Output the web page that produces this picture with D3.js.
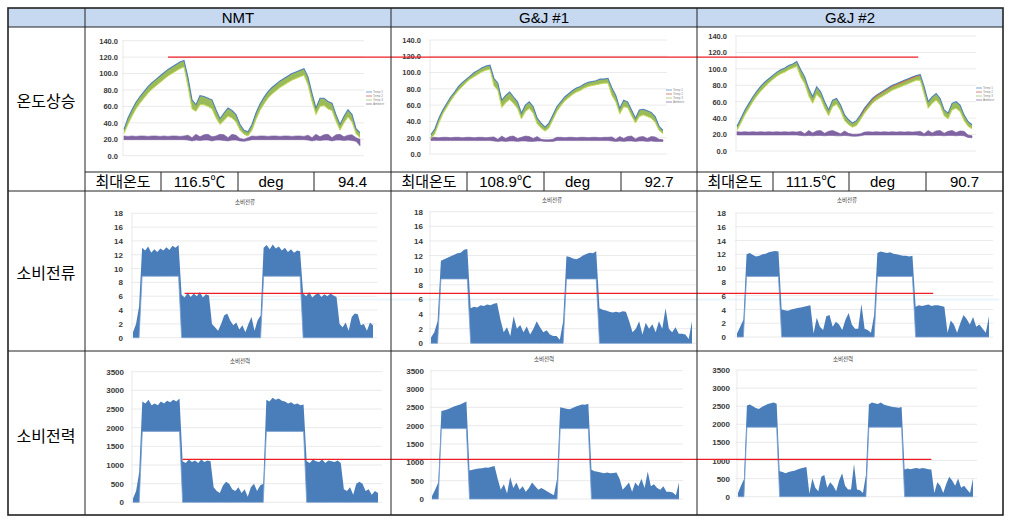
<!DOCTYPE html>
<html>
<head>
<meta charset="utf-8">
<script src="https://cdn.jsdelivr.net/npm/d3@7"></script>
<style>
  body { margin: 0; background: #fff; }
  text { font-family: 'Liberation Sans', 'Noto Sans CJK KR', sans-serif; }
</style>
</head>
<body>
<svg width="1011" height="524"></svg>
<script>
const columns = ['NMT', 'G&J #1', 'G&J #2']
const rowLabels = ['온도상승', '소비전류', '소비전력']
const maxTempLabel = '최대온도'
const maxTemps = ['116.5℃', '108.9℃', '111.5℃']
const degValues = ['94.4', '92.7', '90.7']
const currentTitle = '소비전류'
const powerTitle = '소비전력'
const legendNames = ['Temp 1', 'Temp 2', 'Temp 3', 'Ambient']

const tempTicks = [0, 20, 40, 60, 80, 100, 120, 140]
const currentTicks = [0, 2, 4, 6, 8, 10, 12, 14, 16, 18]
const powerTicks = [0, 500, 1000, 1500, 2000, 2500, 3000, 3500]

// limit lines (drawn across the three columns)
const limitTemp = 120
const limitCurrent = 6.4
const limitPower = 1150

// temperature, sampled at even steps over the test
const nmtTempHi = [32,46,56,65,72,78,84,89,93,97,101,105,108,111,114,116,95,68,62,73,72,70,68,56,45,52,58,55,50,38,31,29,38,52,63,71,78,83,87,91,94,97,100,102,104,106,96,76,58,70,70,66,64,50,38,48,56,50,33,28]
const nmtTempLo = [27,38,48,57,64,70,76,81,85,89,93,97,100,103,106,108,84,57,54,62,62,60,57,46,38,43,48,46,41,31,26,24,31,44,55,63,70,75,79,83,86,89,92,94,96,98,86,66,50,60,61,57,55,42,31,40,47,41,27,22]
const nmtAmbHi = [24,23.5,24,23.5,24,24,23.5,24,24,23.5,24,23.5,24,24,23.5,24,25,22,26,23,25.5,26,23,24,26,25.5,22,26,25,21,20,22,24,23.5,24,24,23.5,24,24,23.5,24,24,23.5,24,24,23.5,25,22,26,23,25.5,26,22,25.5,26,23,25,25.5,22,20]
const nmtAmbLo = [19.5,19.5,19.5,19.5,19.5,19.5,19.5,19.5,19.5,19.5,19.5,19.5,19.5,19.5,19.5,19.5,19,18,19,18.5,19,19,18,19,19,18.5,18,19,19,18,17.5,18.5,19.5,19.5,19.5,19.5,19.5,19.5,19.5,19.5,19.5,19.5,19.5,19.5,19.5,19.5,19,18,19,18.5,19,19,18,19,19,18.5,19,18.5,17.5,12]

const g1TempHi = [24,31,44,54,62,70,76,83,88,92,96,100,103,106,108,109,93,87,66,72,76,70,64,50,60,64,58,44,38,33,38,48,58,64,70,74,78,81,83,86,88,89,90,92,92,93,81,72,56,66,64,54,44,54,55,53,51,46,34,29]
const g1TempLo = [19,25,38,49,57,65,72,78,83,88,92,95,98,101,103,104,84,78,57,63,67,62,56,43,52,56,50,37,32,28,32,42,52,59,65,69,73,76,78,81,83,84,85,86,87,87,72,64,49,58,57,47,38,46,48,46,44,39,29,25]
const g1AmbHi = [20.5,20.5,20,20.5,20.5,20,20.5,20.5,20,20.5,20.5,20,20.5,20.5,20,20.5,21,18,22,19,21.5,22,19,20.5,22,21.5,19,21.5,18,17.5,17.5,18,20.5,20.5,20,20.5,20.5,20,20.5,20.5,20,20.5,20.5,20,20.5,20.5,21,18,21.5,19,21.5,22,18.5,21,21.5,19,21.5,21,18,17.5]
const g1AmbLo = [16.5,16.5,16.5,16.5,16.5,16.5,16.5,16.5,16.5,16.5,16.5,16.5,16.5,16.5,16.5,16.5,16,15.5,16,15.5,16,16,15.5,16,16,15.5,15.5,16,16,15.5,15.5,15.5,16.5,16.5,16.5,16.5,16.5,16.5,16.5,16.5,16.5,16.5,16.5,16.5,16.5,16.5,16,15.5,16,15.5,16,16,15.5,16,16,15.5,16,15.5,15.5,15.5]

const g2TempHi = [30,40,50,58,66,73,79,84,88,92,96,99,101,104,106,109,99,90,76,66,78,72,60,50,62,64,56,44,38,34,37,44,52,58,64,68,71,74,77,80,82,84,86,88,90,92,93,78,60,66,70,64,50,46,58,60,56,44,36,32]
const g2TempLo = [25,34,44,52,60,67,73,78,83,87,91,94,96,99,101,103,90,82,67,58,69,64,52,43,54,57,49,37,32,29,31,38,46,52,58,62,65,68,71,74,76,78,80,82,84,86,86,69,52,58,62,56,43,39,50,52,48,37,30,27]
const g2OrangeStart = 31
const g2OrangeTemp = [43,51,57,63,67,70,73,76,79,81,83,85,87,89,91,92]
const g2AmbHi = [23.5,23,23.5,23,23.5,23,23.5,23,23.5,23,23.5,23,23.5,23,23.5,23,24,21,25,22,24.5,25,21.5,24,25,23,21,24.5,21.5,20.5,20.5,21,23,23.5,23,23.5,23,23.5,23,23.5,23,23.5,23,23.5,23,23.5,24,21,25,22,24.5,25,21.5,24,25,22.5,24.5,24,19.5,18.5]
const g2AmbLo = [19.5,19.5,19.5,19.5,19.5,19.5,19.5,19.5,19.5,19.5,19.5,19.5,19.5,19.5,19.5,19.5,19,18.5,19,18.5,19,19,18.5,19,19,18.5,18.5,19,18.5,18,18,18.5,19.5,19.5,19.5,19.5,19.5,19.5,19.5,19.5,19.5,19.5,19.5,19.5,19.5,19.5,19,18.5,19,18.5,19,19,18.5,19,19,18.5,19,18.5,16.5,16]

// current (A): upper and lower edge of the trace
const nmtCurHi = [0.8,2.0,4.5,13.0,12.6,13.2,12.3,12.8,12.4,12.9,12.6,13.1,12.7,13.3,13.0,13.4,6.2,5.8,6.5,5.9,6.4,6.0,6.6,5.8,6.3,6.1,2.0,1.5,1.0,2.0,3.2,3.5,2.5,1.8,2.2,1.2,1.8,0.8,2.0,3.0,1.0,2.5,3.2,13.0,13.4,12.8,13.5,12.9,13.2,12.6,13.0,12.4,12.8,12.3,12.6,12.5,6.4,6.0,6.6,5.8,6.2,6.5,5.9,6.3,6.0,6.4,6.1,5.9,2.0,1.5,2.2,1.0,3.0,3.5,3.4,1.8,2.0,1.0,2.2,1.8]
const nmtCurLo = [0,0,0,8.9,8.9,8.9,8.9,8.9,8.9,8.9,8.9,8.9,8.9,8.9,8.9,8.9,0,0,0,0,0,0,0,0,0,0,0,0,0,0,0,0,0,0,0,0,0,0,0,0,0,0,0,8.9,8.9,8.9,8.9,8.9,8.9,8.9,8.9,8.9,8.9,8.9,8.9,8.9,0,0,0,0,0,0,0,0,0,0,0,0,0,0,0,0,0,0,0,0,0,0,0,0]
const g1CurHi = [0.8,1.5,3.0,11.3,11.5,11.7,11.9,12.1,12.3,12.4,12.8,12.9,4.8,5.0,4.9,5.2,5.1,5.3,5.2,5.4,5.5,3.3,1.5,2.2,1.0,3.7,2.0,2.5,1.5,2.3,1.2,2.0,3.0,2.2,1.5,1.8,1.2,1.0,1.0,0.5,3.0,11.9,11.8,11.6,11.5,11.7,12.0,12.2,12.4,12.3,12.6,4.8,4.6,4.5,4.3,4.2,4.3,4.2,4.4,4.3,3.0,1.5,2.0,3.0,1.2,2.8,2.0,2.6,1.5,3.0,2.0,4.8,2.0,1.5,2.2,1.3,1.3,1.2,0.6,3.0]
const g1CurLo = [0,0,0,8.8,8.8,8.8,8.8,8.8,8.8,8.8,8.8,8.8,0,0,0,0,0,0,0,0,0,0,0,0,0,0,0,0,0,0,0,0,0,0,0,0,0,0,0,0,0,8.8,8.8,8.8,8.8,8.8,8.8,8.8,8.8,8.8,8.8,0,0,0,0,0,0,0,0,0,0,0,0,0,0,0,0,0,0,0,0,0,0,0,0,0,0,0,0,0]
const g2CurHi = [0.5,1.5,2.5,12.0,12.2,11.9,11.7,11.8,12.0,12.1,12.3,12.4,12.5,12.4,4.0,3.9,3.8,4.0,4.1,4.2,4.3,4.4,4.5,4.6,0.5,2.8,1.5,1.0,3.0,3.2,1.5,2.2,1.8,1.0,2.5,3.5,1.8,1.2,1.2,4.8,1.2,1.0,0.6,3.2,12.2,12.4,12.3,12.2,12.3,12.1,12.0,11.9,11.8,11.8,11.7,11.8,4.4,4.6,4.5,4.6,4.7,4.5,4.6,4.6,4.5,4.4,0.6,2.4,1.8,0.6,2.0,3.2,2.6,1.8,2.9,1.5,1.8,1.2,0.6,3.0]
const g2CurLo = [0,0,0,8.8,8.8,8.8,8.8,8.8,8.8,8.8,8.8,8.8,8.8,8.8,0,0,0,0,0,0,0,0,0,0,0,0,0,0,0,0,0,0,0,0,0,0,0,0,0,0,0,0,0,0,8.8,8.8,8.8,8.8,8.8,8.8,8.8,8.8,8.8,8.8,8.8,8.8,0,0,0,0,0,0,0,0,0,0,0,0,0,0,0,0,0,0,0,0,0,0,0,0]

// power (W)
const nmtPowHi = [100,300,800,2700,2650,2750,2600,2650,2600,2700,2650,2720,2680,2750,2700,2780,1100,1050,1150,1080,1120,1050,1150,1080,1120,1100,400,300,250,450,550,500,350,300,400,250,350,150,400,500,300,450,500,2750,2700,2800,2750,2780,2720,2700,2650,2680,2620,2650,2600,2620,1100,1050,1150,1100,1080,1150,1050,1120,1100,1080,1120,1050,350,300,400,200,500,550,500,300,350,200,300,250]
const nmtPowLo = [0,0,0,1900,1900,1900,1900,1900,1900,1900,1900,1900,1900,1900,1900,1900,0,0,0,0,0,0,0,0,0,0,0,0,0,0,0,0,0,0,0,0,0,0,0,0,0,0,0,1900,1900,1900,1900,1900,1900,1900,1900,1900,1900,1900,1900,1900,0,0,0,0,0,0,0,0,0,0,0,0,0,0,0,0,0,0,0,0,0,0,0,0]
const g1PowHi = [80,250,450,2400,2420,2450,2480,2520,2550,2580,2620,2660,780,800,820,830,840,860,850,880,900,550,250,400,150,600,300,450,250,350,200,300,450,350,250,300,250,200,150,100,550,2500,2480,2460,2450,2480,2520,2550,2580,2570,2600,800,760,740,720,700,720,700,710,720,550,250,350,450,200,450,350,550,300,750,350,400,300,250,350,200,200,180,100,450]
const g1PowLo = [0,0,0,1920,1920,1920,1920,1920,1920,1920,1920,1920,0,0,0,0,0,0,0,0,0,0,0,0,0,0,0,0,0,0,0,0,0,0,0,0,0,0,0,0,0,1920,1920,1920,1920,1920,1920,1920,1920,1920,1920,0,0,0,0,0,0,0,0,0,0,0,0,0,0,0,0,0,0,0,0,0,0,0,0,0,0,0,0,0]
const g2PowHi = [100,300,480,2520,2550,2500,2450,2420,2480,2520,2560,2580,2600,2570,700,680,650,680,700,720,750,780,800,820,80,500,250,150,550,600,250,400,300,150,450,650,300,200,200,900,200,180,100,600,2550,2600,2580,2560,2600,2550,2520,2500,2480,2470,2460,2480,750,780,760,780,790,770,790,780,760,750,100,400,300,100,350,550,450,300,500,250,300,200,100,500]
const g2PowLo = [0,0,0,1920,1920,1920,1920,1920,1920,1920,1920,1920,1920,1920,0,0,0,0,0,0,0,0,0,0,0,0,0,0,0,0,0,0,0,0,0,0,0,0,0,0,0,0,0,0,1920,1920,1920,1920,1920,1920,1920,1920,1920,1920,1920,1920,0,0,0,0,0,0,0,0,0,0,0,0,0,0,0,0,0,0,0,0,0,0,0,0]

const svg = d3.select('svg')

// ---- table frame ----
const colX = [8, 85, 391, 697, 1003]
const rowY = [8, 27, 191, 351, 515]
const subY = 172
const subColX = [
  [85, 161, 238, 314, 391],
  [391, 467, 544, 621, 697],
  [697, 773, 849, 926, 1003]
]

svg.append('rect')
  .attr('x', colX[0]).attr('y', rowY[0])
  .attr('width', colX[4] - colX[0]).attr('height', rowY[1] - rowY[0])
  .attr('fill', '#c6d9f1')

const tempCharts = [
  {hi: nmtTempHi, lo: nmtTempLo, ambHi: nmtAmbHi, ambLo: nmtAmbLo, x0: 124, x1: 360, yb: 155.7, yt: 40.7, lx: 118, leg: [366, 92]},
  {hi: g1TempHi, lo: g1TempLo, ambHi: g1AmbHi, ambLo: g1AmbLo, x0: 431, x1: 663, yb: 154, yt: 40, lx: 421, leg: [666, 90]},
  {hi: g2TempHi, lo: g2TempLo, ambHi: g2AmbHi, ambLo: g2AmbLo, x0: 737, x1: 972, yb: 151, yt: 36, lx: 727, leg: [976, 88]}
]
const currentCharts = [
  {hi: nmtCurHi, lo: nmtCurLo, x0: 133, x1: 373, yb: 337.7, yt: 213.3, lx: 123, tx: 245, ty: 204},
  {hi: g1CurHi, lo: g1CurLo, x0: 431, x1: 692, yb: 343.3, yt: 211.7, lx: 423, tx: 552, ty: 202},
  {hi: g2CurHi, lo: g2CurLo, x0: 737, x1: 989, yb: 337, yt: 213, lx: 726, tx: 847, ty: 202}
]
const powerCharts = [
  {hi: nmtPowHi, lo: nmtPowLo, x0: 133, x1: 378, yb: 502.3, yt: 371.7, lx: 124, tx: 240, ty: 363},
  {hi: g1PowHi, lo: g1PowLo, x0: 432, x1: 679, yb: 499, yt: 370.7, lx: 424, tx: 544, ty: 361},
  {hi: g2PowHi, lo: g2PowLo, x0: 738, x1: 973, yb: 496.7, yt: 370, lx: 730, tx: 843, ty: 361}
]

// faint highlight band under the current limit (drawn first, sits under the charts)
const hl = svg.append('line')

function gridAndAxis (g, c, y, ticks, fmt, fs) {
  g.append('g').selectAll('line').data(ticks).join('line')
    .attr('x1', c.x0 - 2).attr('x2', c.x1 + 4)
    .attr('y1', d => y(d)).attr('y2', d => y(d))
    .attr('stroke', '#e4e4e4').attr('stroke-width', 0.8)
  g.append('line')
    .attr('x1', c.x0 - 1).attr('x2', c.x0 - 1)
    .attr('y1', y(ticks[0])).attr('y2', y(ticks[ticks.length - 1]))
    .attr('stroke', '#e4e4e4').attr('stroke-width', 0.8)
  const ax = g.append('g')
    .attr('transform', `translate(${c.lx},0)`)
    .call(d3.axisLeft(y).tickValues(ticks).tickFormat(fmt).tickSize(0).tickPadding(0))
  ax.select('.domain').remove()
  ax.selectAll('text')
    .attr('font-size', fs).attr('font-weight', 'bold').attr('fill', '#3a3a3a')
}

function drawTemp (c, i) {
  const g = svg.append('g')
  const x = d3.scaleLinear().domain([0, c.hi.length - 1]).range([c.x0, c.x1])
  const y = d3.scaleLinear().domain([0, 140]).range([c.yb, c.yt])
  gridAndAxis(g, c, y, tempTicks, d3.format('.1f'), 7.5)

  const band = (hi, lo) => d3.area().x((d, k) => x(k)).y0((d, k) => y(lo[k])).y1(d => y(d))
  const line = d3.line().x((d, k) => x(k)).y(d => y(d))

  g.append('path').datum(c.ambHi).attr('d', band(c.ambHi, c.ambLo))
    .attr('fill', '#8064a2').attr('stroke', '#7a5ea0').attr('stroke-width', 0.6)
  g.append('path').datum(c.hi).attr('d', band(c.hi, c.lo))
    .attr('fill', '#9bbb59').attr('stroke', 'none')
  g.append('path').datum(c.lo).attr('d', line)
    .attr('fill', 'none').attr('stroke', '#c8dc5a').attr('stroke-width', 1)
  if (i === 2) {
    g.append('path').datum(g2OrangeTemp)
      .attr('d', d3.line().x((d, k) => x(k + g2OrangeStart)).y(d => y(d)))
      .attr('fill', 'none').attr('stroke', '#e46c3a').attr('stroke-width', 1.2)
  }
  g.append('path').datum(c.hi).attr('d', line)
    .attr('fill', 'none').attr('stroke', '#4f81bd').attr('stroke-width', 1.1)

  // tiny legend
  const legColors = ['#4f81bd', '#c0504d', '#9bbb59', '#8064a2']
  const lg = g.append('g').attr('transform', `translate(${c.leg[0]},${c.leg[1]})`)
  legendNames.forEach((n, k) => {
    lg.append('line').attr('x1', 0).attr('x2', 6).attr('y1', k * 4).attr('y2', k * 4)
      .attr('stroke', legColors[k]).attr('stroke-width', 0.7)
    lg.append('text').attr('x', 7).attr('y', k * 4 + 1).text(n)
      .attr('font-size', 3).attr('fill', '#888')
  })
  return {x, y}
}

function drawBand (c, ticks, ymax, title) {
  const g = svg.append('g')
  const x = d3.scaleLinear().domain([0, c.hi.length - 1]).range([c.x0, c.x1])
  const y = d3.scaleLinear().domain([0, ymax]).range([c.yb, c.yt])
  gridAndAxis(g, c, y, ticks, d3.format('d'), 8)
  g.append('path').datum(c.hi)
    .attr('d', d3.area().x((d, k) => x(k)).y0((d, k) => y(c.lo[k])).y1(d => y(d)))
    .attr('fill', '#4a7ebb')
  g.append('path').datum(c.lo)
    .attr('d', d3.line().x((d, k) => x(k)).y(d => y(d)))
    .attr('fill', 'none').attr('stroke', '#7a9fd0').attr('stroke-width', 0.8)
  g.append('text').attr('x', c.tx).attr('y', c.ty).attr('text-anchor', 'middle')
    .attr('font-size', 5.5).attr('fill', '#333').text(title)
  return {x, y}
}

const tS = tempCharts.map(drawTemp)
const cS = currentCharts.map(c => drawBand(c, currentTicks, 18, currentTitle))
const pS = powerCharts.map(c => drawBand(c, powerTicks, 3500, powerTitle))

hl.attr('x1', cS[0].x(17)).attr('x2', colX[4] - 4)
  .attr('y1', cS[0].y(limitCurrent) + 6).attr('y2', cS[0].y(limitCurrent) + 6)
  .attr('stroke', '#eaf6fc').attr('stroke-width', 2)

// limit lines: height taken from the NMT chart, running into the G&J #2 chart
const limits = [
  {s: tS, v: limitTemp, from: 11, to: 45.5},
  {s: cS, v: limitCurrent, from: 17, to: 61.5},
  {s: pS, v: limitPower, from: 16, to: 65}
]
limits.forEach(l => {
  const yy = l.s[0].y(l.v)
  svg.append('line')
    .attr('x1', l.s[0].x(l.from)).attr('x2', l.s[2].x(l.to))
    .attr('y1', yy).attr('y2', yy)
    .attr('stroke', '#ee1c24').attr('stroke-width', 1.3)
})

// ---- table lines ----
const tl = svg.append('g').attr('stroke', '#222').attr('stroke-width', 1)
rowY.slice(1, 4).forEach(y => tl.append('line').attr('x1', colX[0]).attr('x2', colX[4]).attr('y1', y).attr('y2', y))
colX.slice(1, 4).forEach(x => tl.append('line').attr('x1', x).attr('x2', x).attr('y1', rowY[0]).attr('y2', rowY[4]))
tl.append('line').attr('x1', colX[1]).attr('x2', colX[4]).attr('y1', subY).attr('y2', subY)
subColX.forEach(sc => sc.slice(1, 4).forEach(x =>
  tl.append('line').attr('x1', x).attr('x2', x).attr('y1', subY).attr('y2', rowY[2])))
svg.append('rect')
  .attr('x', colX[0]).attr('y', rowY[0])
  .attr('width', colX[4] - colX[0]).attr('height', rowY[4] - rowY[0])
  .attr('fill', 'none').attr('stroke', '#222').attr('stroke-width', 1.6)

// ---- texts ----
columns.forEach((c, i) => {
  svg.append('text').attr('x', (colX[i + 1] + colX[i + 2]) / 2).attr('y', 23)
    .attr('text-anchor', 'middle').attr('font-size', 15).text(c)
})
const rowMid = [101, 273, 436]
rowLabels.forEach((r, i) => {
  svg.append('text').attr('x', 46).attr('y', rowMid[i] + 6)
    .attr('text-anchor', 'middle').attr('font-size', 16)
    .attr('font-family', "'Noto Sans CJK KR', sans-serif").text(r)
})
subColX.forEach((sc, i) => {
  const texts = [maxTempLabel, maxTemps[i], 'deg', degValues[i]]
  texts.forEach((t, k) => {
    svg.append('text').attr('x', (sc[k] + sc[k + 1]) / 2 - (k === 2 ? 5 : 0)).attr('y', 187)
      .attr('text-anchor', 'middle').attr('font-size', 15)
      .attr('font-family', k === 0 ? "'Noto Sans CJK KR', sans-serif" : null)
      .text(t)
  })
})
</script>
</body>
</html>
